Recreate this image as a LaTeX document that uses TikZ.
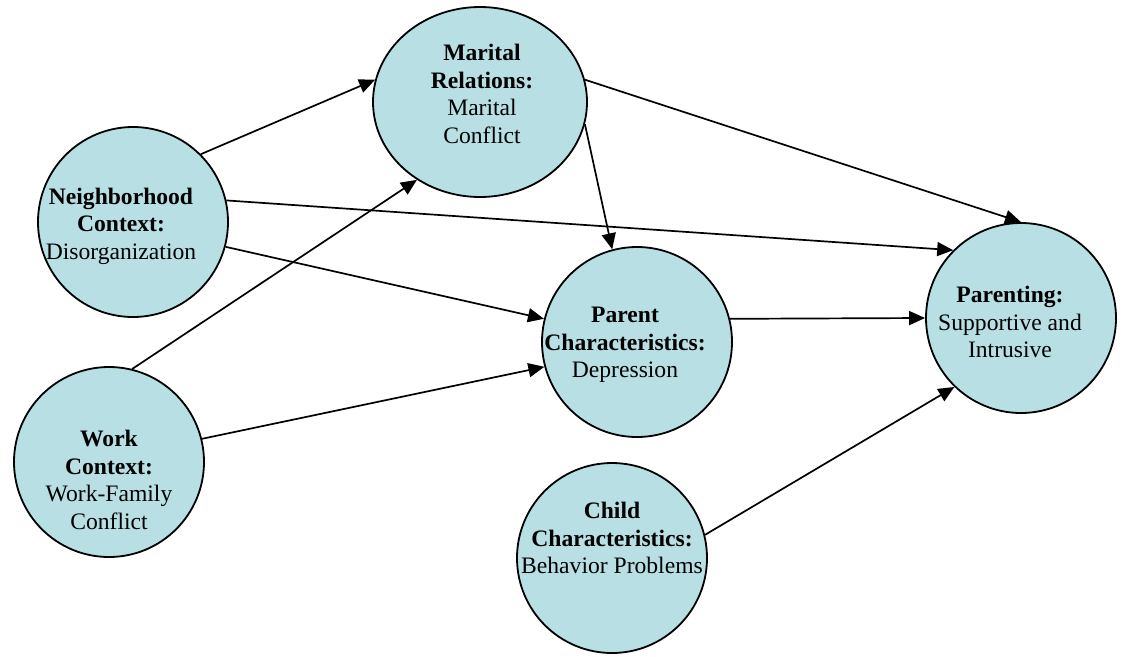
\documentclass[tikz,border=0pt]{standalone}
\usepackage{fontspec}
\setmainfont{Liberation Serif}
\usepackage{tikz}
\usetikzlibrary{shapes,arrows.meta,positioning}
\definecolor{circfill}{RGB}{184,224,228}
\tikzset{
  var/.style={shape=ellipse, draw, line width=1.8pt, fill=circfill, minimum width=190pt, minimum height=190pt, inner sep=0pt},
  txt/.style={align=center, font=\fontsize{23.6}{27.5}\selectfont, inner sep=0pt},
  arr/.style={-{Triangle[length=16pt,width=14pt]}, line width=1.7pt},
}
\begin{document}
\begin{tikzpicture}[x=1pt,y=-1pt]
\useasboundingbox (0,0) rectangle (1126,656);
\node[var, label={[txt,xshift=-12pt,yshift=-4pt]center:{\textbf{Neighborhood}\\\textbf{Context:}\\Disorganization}}] (nbh) at (133,222) {};
\node[var, label={[txt,yshift=-18pt]center:{\textbf{Work}\\\textbf{Context:}\\Work-Family\\Conflict}}] (work) at (109,462) {};
\node[var, minimum width=214pt, label={[txt,xshift=2pt,yshift=8pt]center:{\textbf{Marital}\\\textbf{Relations:}\\Marital\\Conflict}}] (mar) at (480,102) {};
\node[var, label={[txt,xshift=-12pt,yshift=-3pt]center:{\textbf{Parent}\\\textbf{Characteristics:}\\Depression}}] (par) at (637,342) {};
\node[var, label={[txt,yshift=20pt]center:{\textbf{Child}\\\textbf{Characteristics:}\\Behavior Problems}}] (chd) at (612,558) {};
\node[var, label={[txt,xshift=-11pt,yshift=-4pt]center:{\textbf{Parenting:}\\Supportive and\\Intrusive}}] (ptg) at (1021,318) {};
\draw[arr] (nbh.45) -- (mar.168);
\draw[arr] (work.76) -- (mar.231);
\draw[arr] (nbh.13) -- (ptg.135);
\draw[arr] (nbh.345) -- (par.166);
\draw[arr] (work.14) -- (par.195);
\draw[arr] (mar.12) -- (ptg.90);
\draw[arr] (mar.348) -- (par.105);
\draw[arr] (par.14) -- (ptg.180);
\draw[arr] (chd.14) -- (ptg.226);
\end{tikzpicture}
\end{document}
